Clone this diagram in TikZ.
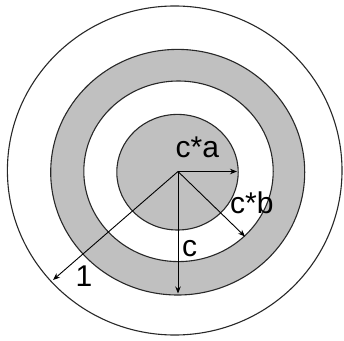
\documentclass[tikz,border=0pt]{standalone}
\usepackage{fontspec}
\setmainfont{Liberation Sans}
\usetikzlibrary{arrows.meta}
\definecolor{ringgray}{RGB}{192,192,192}
\definecolor{ringline}{RGB}{40,40,40}
\begin{document}
\begin{tikzpicture}[x=1pt,y=1pt,
  ring/.style={draw=ringline, line width=1.1pt},
  radiusarrow/.style={draw=black, line width=0.9pt, -{Stealth[length=7pt,width=5.5pt]}},
  lbl/.style={inner sep=0pt, anchor=base west, font=\fontsize{30}{32}\selectfont}]
\useasboundingbox (0,0) rectangle (344,340);
\fill[white] (0,0) rectangle (344,340);
\draw[ring, fill=white] (174.7,169.5) ellipse [x radius=167.3pt, y radius=164.5pt];
\draw[ring, fill=ringgray] (177.7,167.8) ellipse [x radius=127pt, y radius=122.8pt];
\draw[ring, fill=white] (178.5,168.7) ellipse [x radius=94.7pt, y radius=90.3pt];
\draw[ring, fill=ringgray] (177.5,167.8) ellipse [x radius=60.7pt, y radius=57.8pt];
\coordinate (O) at (178,168.5);
\coordinate (A) at (237,168.5);
\coordinate (B) at (245,103.5);
\coordinate (C) at (178,46.5);
\coordinate (D) at (53,60);
\draw[radiusarrow] (O) -- (A);
\draw[radiusarrow] (O) -- (B);
\draw[radiusarrow] (O) -- (C);
\draw[radiusarrow] (O) -- (D);
\node[lbl] (la) at (175.5,182.7) {c*a};
\node[lbl] (lb) at (230,126.7) {c*b};
\node[lbl] (lc) at (182,84) {c};
\node[lbl] (l1) at (75.5,53.3) {1};
\end{tikzpicture}
\end{document}
